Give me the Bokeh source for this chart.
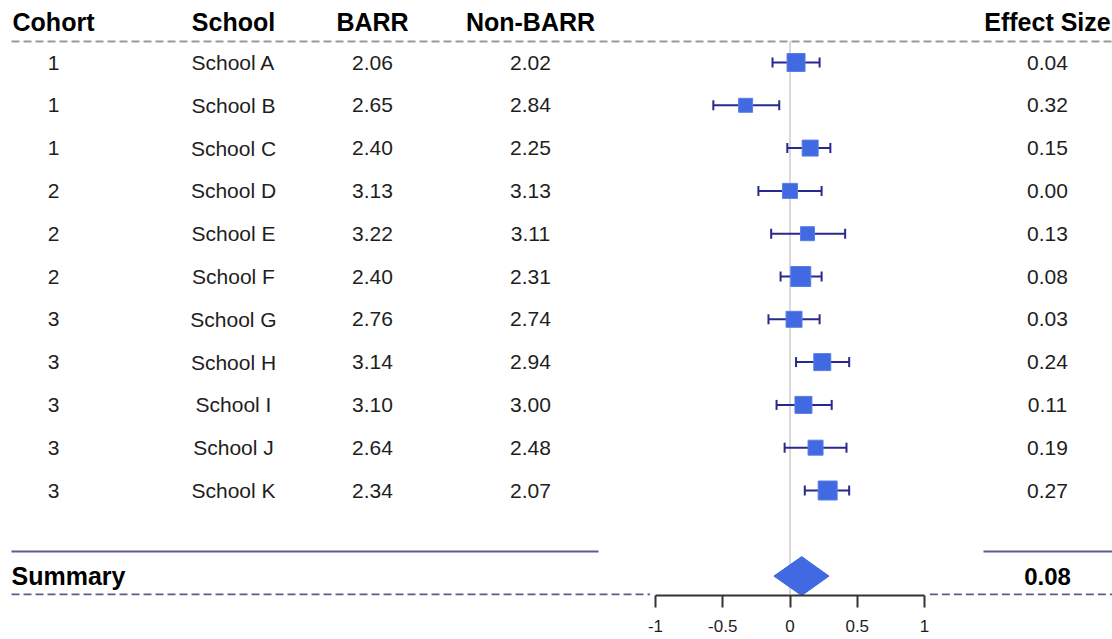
from bokeh.plotting import figure
from bokeh.models import Range1d, FixedTicker, ColumnDataSource
from bokeh.core.properties import value
from bokeh.embed import file_html
from bokeh.resources import INLINE

# ---------------- data ----------------
cohort = ["1", "1", "1", "2", "2", "2", "3", "3", "3", "3", "3"]
school = ["School A", "School B", "School C", "School D", "School E", "School F",
          "School G", "School H", "School I", "School J", "School K"]
barr = [2.06, 2.65, 2.40, 3.13, 3.22, 2.40, 2.76, 3.14, 3.10, 2.64, 2.34]
non_barr = [2.02, 2.84, 2.25, 3.13, 3.11, 2.31, 2.74, 2.94, 3.00, 2.48, 2.07]
effect_size = [0.04, 0.32, 0.15, 0.00, 0.13, 0.08, 0.03, 0.24, 0.11, 0.19, 0.27]
estimate = [0.045, -0.33, 0.15, 0.0, 0.13, 0.08, 0.03, 0.24, 0.10, 0.19, 0.28]
ci_low = [-0.13, -0.57, -0.02, -0.235, -0.14, -0.07, -0.16, 0.045, -0.10, -0.04, 0.11]
ci_high = [0.22, -0.08, 0.30, 0.235, 0.41, 0.235, 0.22, 0.44, 0.31, 0.42, 0.44]
weight = [18, 14, 16, 15, 14, 20, 16, 17, 17, 15, 19]
summary_es = 0.08
summary_est = 0.087
summary_low = -0.12
summary_high = 0.29
headers = ["Cohort", "School", "BARR", "Non-BARR", "Effect Size"]
ticks = [-1, -0.5, 0, 0.5, 1]
tick_labels = ["-1", "-0.5", "0", "0.5", "1"]

# ---------------- layout helpers ----------------
W, H = 1112, 639
PX_PER_UNIT = 134.5           # pixels per effect-size unit
AXIS_LEFT_PX = 655            # pixel where x = -1
ROW0_PX = 62                  # pixel of first row
ROW_STEP = 42.8
FRAME_BOTTOM_PX = 595

def xd(px):
    return -1 + (px - AXIS_LEFT_PX) / PX_PER_UNIT

def yd(px):
    return (px - ROW0_PX) / ROW_STEP

n = len(school)
rows = list(range(n))
summary_row = n + 1
cap = 5 / ROW_STEP

p = figure(width=W, height=H, output_backend="svg", toolbar_location=None,
           x_range=Range1d(xd(0), xd(W)),
           y_range=Range1d(yd(FRAME_BOTTOM_PX), yd(0)),
           y_axis_location=None,
           min_border_left=0, min_border_right=0, min_border_top=0,
           min_border_bottom=H - FRAME_BOTTOM_PX)
p.outline_line_color = None
p.xgrid.visible = False
p.ygrid.visible = False
p.background_fill_color = "white"
p.border_fill_color = "white"

FONT = value("Liberation Sans")
TXT = "#1e1e1e"

col_x = [xd(53), xd(233), xd(372), xd(530), xd(1047)]
header_y = yd(21)

# headers
p.text(x=col_x, y=[header_y] * 5, text=headers, text_font=FONT,
       text_font_size="25px", text_font_style="bold", text_color="black",
       text_align="center", text_baseline="middle")

# table body
src = ColumnDataSource(dict(
    row=rows, cap_lo=[r - cap for r in rows], cap_hi=[r + cap for r in rows],
    cohort=cohort, school=school,
    barr=["%.2f" % v for v in barr], non_barr=["%.2f" % v for v in non_barr],
    es=["%.2f" % v for v in effect_size],
    est=estimate, lo=ci_low, hi=ci_high, w=weight))

for key, cx in zip(["cohort", "school", "barr", "non_barr", "es"], col_x):
    p.text(x=cx, y="row", text=key, source=src, text_font=FONT,
           text_font_size="21px", text_color=TXT,
           text_align="center", text_baseline="middle")

# lines
top_y = yd(41)
p.line([xd(11), xd(W)], [top_y, top_y], line_color="#9a9a9a", line_width=2, line_dash="8 4")

sep_y = yd(551)
p.line([xd(11), xd(598)], [sep_y, sep_y], line_color="#5c5c8a", line_width=2)
p.line([xd(983), xd(W)], [sep_y, sep_y], line_color="#5c5c8a", line_width=2)

bot_y = yd(594)
p.line([xd(11), -1.04], [bot_y, bot_y], line_color="#5c5c8a", line_width=2, line_dash="8 4")
p.line([1.04, xd(W)], [bot_y, bot_y], line_color="#5c5c8a", line_width=2, line_dash="8 4")

# zero reference line
p.line([0, 0], [top_y, bot_y], line_color="#cccccc", line_width=1.5)

# error bars
ERR = "#28288f"
p.segment(x0="lo", y0="row", x1="hi", y1="row", source=src, line_color=ERR, line_width=2)
p.segment(x0="lo", y0="cap_lo", x1="lo", y1="cap_hi", source=src, line_color=ERR, line_width=2)
p.segment(x0="hi", y0="cap_lo", x1="hi", y1="cap_hi", source=src, line_color=ERR, line_width=2)

# squares
p.scatter(x="est", y="row", size="w", marker="square", source=src,
          fill_color="#4169e1", line_color="#5a7ee8", line_width=1)

# summary
dh = 19.5 / ROW_STEP
p.patch([summary_low, summary_est, summary_high, summary_est],
        [summary_row, summary_row - dh, summary_row, summary_row + dh],
        fill_color="#4169e1", line_color="#4169e1")
p.text(x=[xd(11)], y=[summary_row], text=["Summary"], text_font=FONT,
       text_font_size="25px", text_font_style="bold", text_color="black",
       text_align="left", text_baseline="middle")
p.text(x=[col_x[4]], y=[summary_row], text=["%.2f" % summary_es], text_font=FONT,
       text_font_size="24px", text_font_style="bold", text_color="black",
       text_align="center", text_baseline="middle")

# x axis
ax = p.xaxis[0]
ax.bounds = (-1, 1)
ax.ticker = FixedTicker(ticks=ticks)
ax.major_label_overrides = {t: s for t, s in zip(ticks, tick_labels)}
ax.minor_tick_line_color = None
ax.axis_line_color = "#333333"
ax.axis_line_width = 2
ax.major_tick_line_color = "#333333"
ax.major_tick_line_width = 2
ax.major_tick_out = 12
ax.major_tick_in = 0
ax.major_label_standoff = 12
ax.major_label_text_font = "Liberation Sans"
ax.major_label_text_font_size = "17px"
ax.major_label_text_color = TXT

open("out.html", "w").write(file_html(p, INLINE))
